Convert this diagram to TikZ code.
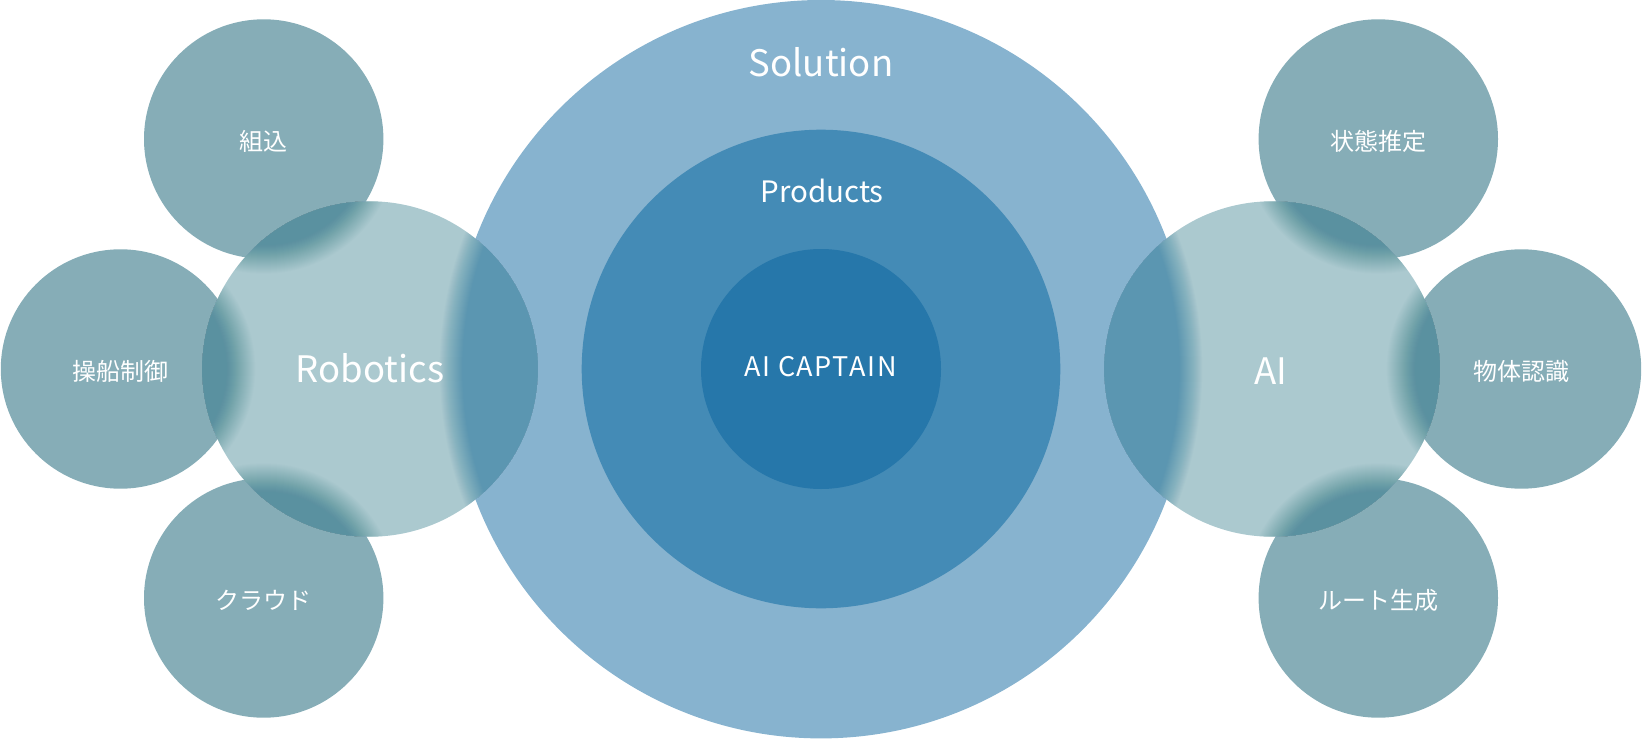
\documentclass[tikz,border=0pt]{standalone}
\usepackage{fontspec}
\setmainfont{Noto Sans CJK JP}
\newfontfamily\capfont[LetterSpace=6]{Noto Sans CJK JP}
\definecolor{solcol}{HTML}{87B3CF}
\definecolor{procol}{HTML}{448BB6}
\definecolor{capcol}{HTML}{2677AA}
\definecolor{subcol}{HTML}{86ADB7}
\definecolor{fieldcol}{HTML}{ABC9CF}
\definecolor{darksub}{HTML}{5A91A0}
\definecolor{darksol}{HTML}{5B96B1}
\newcommand{\blurlap}[5]{%
\begin{scope}
\clip (#1.center) circle (167.7);
\foreach \k [evaluate=\k as \op using {1/(#5+1-\k)}] in {1,...,#5}
  \fill[#4,opacity=\op] (#2.center) circle ({#3+#5/2+1-\k});
\end{scope}}

\begin{document}
\begin{tikzpicture}[x=1pt,y=-1pt,
  disc/.style={circle,draw=none,inner sep=0pt},
  sub/.style={disc,fill=subcol,minimum size=239.4pt},
  field/.style={disc,fill=fieldcol,minimum size=335.4pt},
  lbl/.style={text=white,inner sep=0pt,anchor=base},
  jplbl/.style={lbl,font=\fontsize{24}{28}\selectfont}]
\useasboundingbox (0,0) rectangle (1642,739);
\node[disc,fill=solcol,minimum size=738.4pt] (solution) at (821,369.2) {};
\node[disc,fill=procol,minimum size=478.6pt] (products) at (821,369) {};
\node[disc,fill=capcol,minimum size=240pt] (captain) at (821,369) {};
\node[sub] (kumikomi) at (263.7,139) {};
\node[sub] (sousen) at (120.5,369) {};
\node[sub] (cloud) at (263.7,598) {};
\node[sub] (joutai) at (1378.3,139) {};
\node[sub] (buttai) at (1521.5,369) {};
\node[sub] (route) at (1378.3,598) {};
\node[field] (robotics) at (370,369) {};
\node[field] (ai) at (1272,369) {};
\blurlap{robotics}{solution}{369.2}{darksol}{24}
\blurlap{robotics}{kumikomi}{119.7}{darksub}{30}
\blurlap{robotics}{sousen}{119.7}{darksub}{30}
\blurlap{robotics}{cloud}{119.7}{darksub}{30}
\blurlap{ai}{solution}{369.2}{darksol}{24}
\blurlap{ai}{joutai}{119.7}{darksub}{30}
\blurlap{ai}{buttai}{119.7}{darksub}{30}
\blurlap{ai}{route}{119.7}{darksub}{30}
\node[lbl,font=\fontsize{36.5}{40}\selectfont] (solutiontext) at (821,76.7) {Solution};
\node[lbl,font=\fontsize{29.5}{34}\selectfont] (productstext) at (822,202.3) {Products};
\node[lbl,font=\capfont\fontsize{27}{32}\selectfont] (captaintext) at (820.5,376) {AI CAPTAIN};
\node[lbl,font=\fontsize{36.5}{40}\selectfont] (roboticstext) at (370,382.3) {Robotics};
\node[lbl,font=\fontsize{36.5}{40}\selectfont] (aitext) at (1271,384) {AI};
\node[jplbl] (kumikomitext) at (263.7,150.5) {組込};
\node[jplbl] (sousentext) at (120.5,380.5) {操船制御};
\node[jplbl] (cloudtext) at (263.7,609.5) {クラウド};
\node[jplbl] (joutaitext) at (1378.3,150.5) {状態推定};
\node[jplbl] (buttaitext) at (1521.5,380.5) {物体認識};
\node[jplbl] (routetext) at (1378.3,609.5) {ルート生成};
\end{tikzpicture}
\end{document}
